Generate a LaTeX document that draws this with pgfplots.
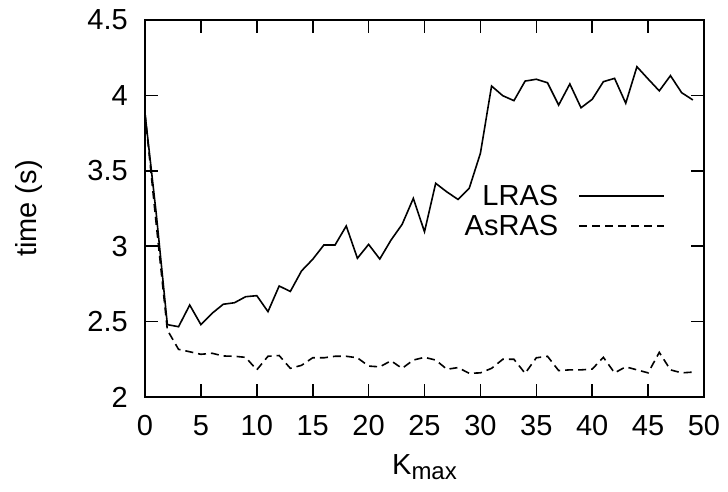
\documentclass[border=0pt]{standalone}
\usepackage{pgfplots}
\pgfplotsset{compat=1.18}
\usepackage{fontspec}
\setmainfont{Liberation Sans}
\newcommand{\bigf}{\fontsize{29}{33}\selectfont}
\begin{document}
\begin{tikzpicture}
\begin{axis}[
  name=ax,
  scale only axis,
  width=559pt, height=377pt,
  xmin=0, xmax=50, ymin=2, ymax=4.5,
  xtick={0,5,...,50},
  ytick={2,2.5,3,3.5,4,4.5},
  tick align=inside,
  major tick length=13pt,
  xtick pos=both, ytick pos=both,
  xticklabel pos=lower, yticklabel pos=left,
  axis line style={line width=2.6pt},
  every tick/.style={black, line width=1.6pt},
  /pgf/number format/assume math mode=true,
  ticklabel style={font=\bigf, inner sep=0pt},
  xticklabel style={anchor=north, yshift=-18pt},
  yticklabel style={anchor=east, xshift=-17pt},
  xlabel={K\raisebox{-5pt}{\fontsize{24}{26}\selectfont max}},
  ylabel={time (s)},
  xlabel style={font=\bigf, at={(axis description cs:0.5,-0.2069)}, anchor=base, inner sep=0pt},
  ylabel style={font=\bigf, at={(axis description cs:-0.2075,0.5)}, anchor=center, inner sep=0pt},
  legend style={draw=none, fill=none, font=\bigf, at={(axis cs:46.78,3.419)}, anchor=north east,
    nodes={inner sep=0pt}, column sep=20pt, row sep=8pt},
  legend cell align=right,
  legend plot pos=right,
  legend image code/.code={\draw[#1] (0pt,0pt) -- (85pt,0pt);},
]
\addplot[black, line width=1.6pt] coordinates {
(0,3.88) (1,3.22) (2,2.48) (3,2.466) (4,2.61) (5,2.48) (6,2.555) (7,2.615) (8,2.625) (9,2.665)
(10,2.672) (11,2.566) (12,2.736) (13,2.70) (14,2.836) (15,2.913) (16,3.008) (17,3.008) (18,3.134) (19,2.92)
(20,3.012) (21,2.915) (22,3.04) (23,3.145) (24,3.317) (25,3.096) (26,3.417) (27,3.36) (28,3.31) (29,3.384)
(30,3.616) (31,4.062) (32,3.998) (33,3.965) (34,4.095) (35,4.107) (36,4.084) (37,3.936) (38,4.076) (39,3.918)
(40,3.974) (41,4.091) (42,4.113) (43,3.948) (44,4.19) (45,4.109) (46,4.03) (47,4.131) (48,4.018) (49,3.97)
};
\addlegendentry{LRAS}
\addplot[black, line width=1.6pt, dash pattern=on 8pt off 5pt] coordinates {
(0,3.88) (1,3.15) (2,2.444) (3,2.316) (4,2.30) (5,2.283) (6,2.29) (7,2.272) (8,2.27) (9,2.263)
(10,2.18) (11,2.27) (12,2.275) (13,2.19) (14,2.21) (15,2.26) (16,2.26) (17,2.27) (18,2.27) (19,2.26)
(20,2.205) (21,2.20) (22,2.24) (23,2.19) (24,2.245) (25,2.263) (26,2.245) (27,2.184) (28,2.195) (29,2.157)
(30,2.16) (31,2.19) (32,2.25) (33,2.25) (34,2.157) (35,2.26) (36,2.27) (37,2.175) (38,2.18) (39,2.18)
(40,2.185) (41,2.263) (42,2.16) (43,2.20) (44,2.18) (45,2.16) (46,2.296) (47,2.18) (48,2.16) (49,2.165)
};
\addlegendentry{AsRAS}
\end{axis}
\pgfresetboundingbox
\path[use as bounding box] ([shift={(-145pt,-95pt)}]ax.south west) rectangle ([shift={(24pt,20pt)}]ax.north east);
\end{tikzpicture}
\end{document}
